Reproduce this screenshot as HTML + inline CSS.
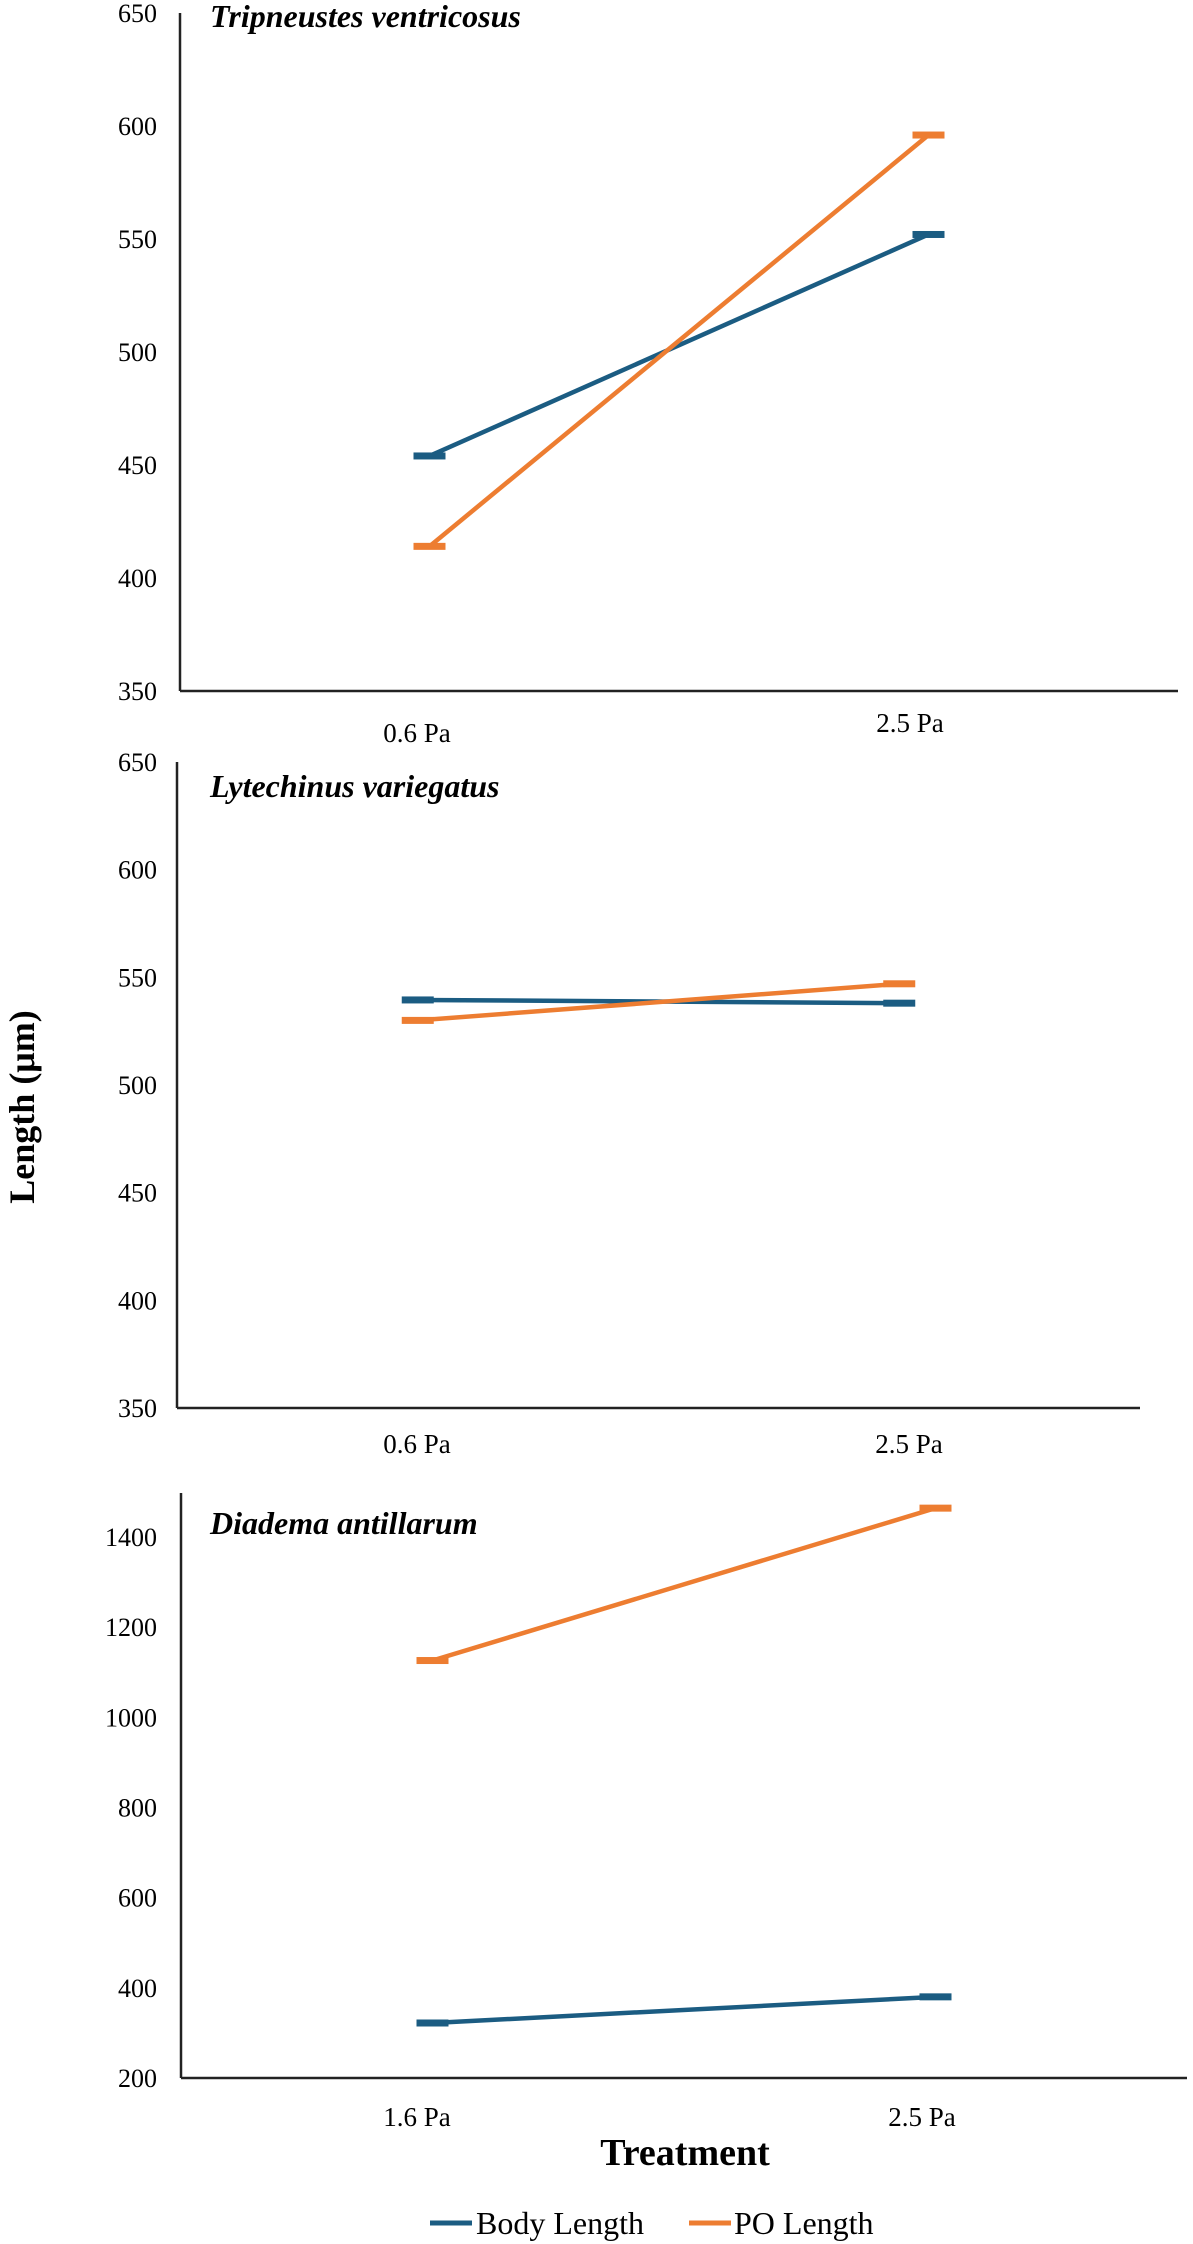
<!DOCTYPE html>
<html><head><meta charset="utf-8"><style>
html,body{margin:0;padding:0;background:#fff;}
svg{display:block;font-family:"Liberation Serif","Times New Roman",serif;}
</style></head><body>
<svg id="chart" width="1193" height="2244" viewBox="0 0 1193 2244" xmlns="http://www.w3.org/2000/svg">
<text transform="translate(34,1107) rotate(-90)" text-anchor="middle" font-size="36" font-weight="bold">Length (μm)</text>
<text x="685" y="2165" text-anchor="middle" font-size="38" font-weight="bold">Treatment</text>
<g>
<line x1="430" y1="2223" x2="472" y2="2223" stroke="#1B5C82" stroke-width="5"/>
<text x="476" y="2234" font-size="32">Body Length</text>
<line x1="689" y1="2223" x2="731" y2="2223" stroke="#ED7D31" stroke-width="5"/>
<text x="734" y="2234" font-size="32">PO Length</text>
</g>
</svg>
<script>
// Panel 1: Tripneustes ventricosus
const p1Categories = ["0.6 Pa", "2.5 Pa"];
const p1Body = [454, 552];
const p1PO = [414, 596];
const p1Ticks = [350, 400, 450, 500, 550, 600, 650];
// Panel 2: Lytechinus variegatus
const p2Categories = ["0.6 Pa", "2.5 Pa"];
const p2Body = [539.5, 538];
const p2PO = [530, 547];
const p2Ticks = [350, 400, 450, 500, 550, 600, 650];
// Panel 3: Diadema antillarum
const p3Categories = ["1.6 Pa", "2.5 Pa"];
const p3Body = [322, 380];
const p3PO = [1126, 1464];
const p3Ticks = [200, 400, 600, 800, 1000, 1200, 1400];

const NS = "http://www.w3.org/2000/svg";
const svg = document.getElementById('chart');
function mk(tag, attrs, parent){
  const e = document.createElementNS(NS, tag);
  for (const k in attrs) e.setAttribute(k, attrs[k]);
  parent.appendChild(e); return e;
}
function panel(cfg, cats, body, po, ticks){
  const g = mk('g', {}, svg);
  
  
  const y = v => cfg.yBottom - (v - cfg.min) / (cfg.max - cfg.min) * (cfg.yBottom - cfg.yTop);
  const x = i => cfg.x0 + (cfg.x1 - cfg.x0) * (i + 0.5) / cats.length;
  const ya = mk('line', {x1: cfg.x0, y1: cfg.axisTop, x2: cfg.x0, y2: cfg.yBottom, stroke: '#222', 'stroke-width': 2.5}, g);
  
  
  const xa = mk('line', {x1: cfg.x0, y1: cfg.yBottom, x2: cfg.x1, y2: cfg.yBottom, stroke: '#222', 'stroke-width': 2.5}, g);
  
  
  ticks.forEach(t => {
    const tl = mk('text', {x: 157, y: y(t) + 9, 'text-anchor': 'end', 'font-size': 26}, g);
    tl.textContent = t;
    
    
  });
  cats.forEach((c, i) => {
    const cl = mk('text', {x: cfg.labelX[i], y: cfg.labelY[i], 'text-anchor': 'middle', 'font-size': 27}, g);
    cl.textContent = c;
    
    
  });
  const tt = mk('text', {x: 210, y: cfg.titleY, 'font-size': 32, 'font-weight': 'bold', 'font-style': 'italic'}, g);
  tt.textContent = cfg.title;
  
  
  [[body, '#1B5C82', 'body-length'], [po, '#ED7D31', 'po-length']].forEach(([vals, col, nm]) => {
    const pts = vals.map((v, i) => x(i) + ',' + y(v)).join(' ');
    const pl = mk('polyline', {points: pts, fill: 'none', stroke: col, 'stroke-width': 4.5}, g);
    
    
    vals.forEach((v, i) => {
      const m = mk('rect', {x: x(i) - 16, y: y(v) - 3.5, width: 32, height: 7, fill: col}, g);
      
      
    });
  });
}
panel({name: 'panel-tripneustes', title: 'Tripneustes ventricosus', x0: 180, x1: 1178, yTop: 13, yBottom: 691, axisTop: 13, min: 350, max: 650, titleY: 27, labelX: [417, 910], labelY: [742, 732]}, p1Categories, p1Body, p1PO, p1Ticks);
panel({name: 'panel-lytechinus', title: 'Lytechinus variegatus', x0: 177, x1: 1140, yTop: 762, yBottom: 1408, axisTop: 762, min: 350, max: 650, titleY: 797, labelX: [417, 909], labelY: [1453, 1453]}, p2Categories, p2Body, p2PO, p2Ticks);
panel({name: 'panel-diadema', title: 'Diadema antillarum', x0: 181, x1: 1187, yTop: 1537, yBottom: 2078, axisTop: 1493, min: 200, max: 1400, titleY: 1534, labelX: [417, 922], labelY: [2126, 2126]}, p3Categories, p3Body, p3PO, p3Ticks);
</script>
</body></html>
